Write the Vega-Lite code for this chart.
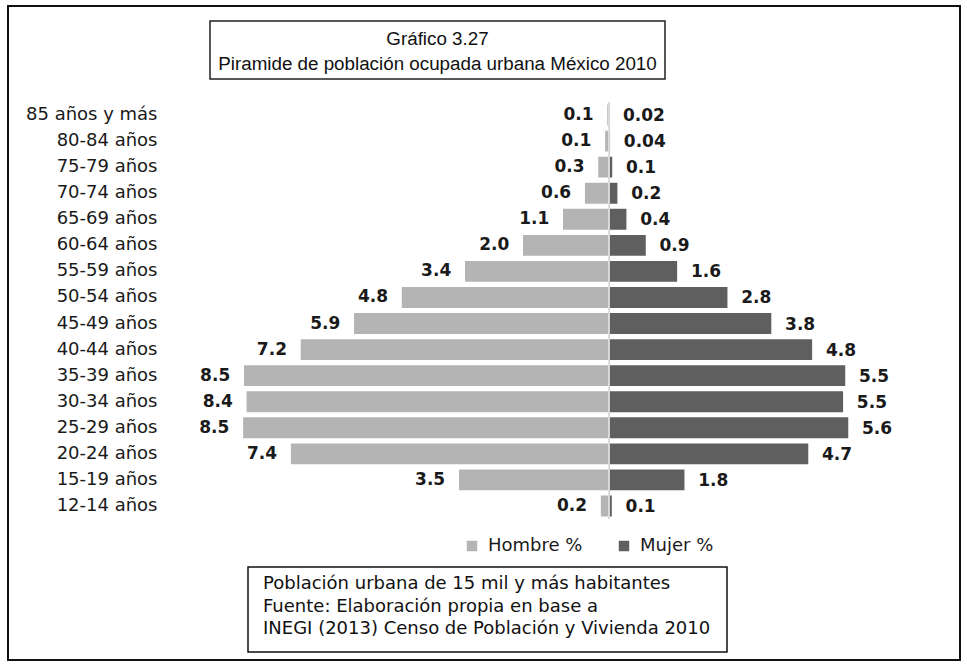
{
  "$schema": "https://vega.github.io/schema/vega-lite/v6.json",
  "padding": {"left": 7, "top": 5, "right": 0, "bottom": 0},
  "background": "white",
  "config": {"view": {"stroke": null}, "font": "DejaVu Sans"},
  "columns": 1,
  "align": {"row": "none", "column": "each"},
  "spacing": -641,
  "resolve": {"scale": {"color": "independent"}, "legend": {"color": "independent"}},
  "concat": [
    {
      "width": 952,
      "height": 654,
      "data": {"values": [{}]},
      "mark": {"type": "text", "text": ""},
      "encoding": {},
      "view": {"stroke": "#111111", "strokeWidth": 2}
    },
    {
      "spacing": 6,
      "resolve": {"scale": {"color": "independent"}, "legend": {"color": "independent"}},
      "vconcat": [
        {
          "spacing": 0,
          "hconcat": [
            {
              "width": 201,
              "height": 69,
              "data": {"values": [{}]},
              "mark": {"type": "text", "text": ""},
              "encoding": {}
            },
            {
              "width": 455,
              "height": 58,
              "data": {"values": [{}]},
              "mark": {"type": "text", "text": ""},
              "encoding": {},
              "view": {"stroke": "#222222", "strokeWidth": 1.5},
              "title": {
                "text": ["Gráfico 3.27", "Piramide de población ocupada urbana México 2010"],
                "anchor": "middle",
                "frame": "group",
                "orient": "top",
                "offset": -53,
                "lineHeight": 25,
                "font": "Liberation Sans",
                "fontSize": 18.8,
                "fontWeight": "normal",
                "color": "#111111"
              }
            }
          ]
        },
        {
          "spacing": 0,
          "resolve": {"scale": {"color": "independent"}, "legend": {"color": "independent"}},
          "hconcat": [
            {
              "width": 17,
              "height": 1,
              "data": {"values": [{}]},
              "mark": {"type": "text", "text": ""},
              "encoding": {}
            },
            {
              "width": 770,
              "height": 417,
              "data": {
                "values": [
                  {"edad": "85 años y más", "sexo": "Hombre %", "pct": 0.06, "etiqueta": "0.1"},
                  {"edad": "80-84 años", "sexo": "Hombre %", "pct": 0.11, "etiqueta": "0.1"},
                  {"edad": "75-79 años", "sexo": "Hombre %", "pct": 0.27, "etiqueta": "0.3"},
                  {"edad": "70-74 años", "sexo": "Hombre %", "pct": 0.58, "etiqueta": "0.6"},
                  {"edad": "65-69 años", "sexo": "Hombre %", "pct": 1.09, "etiqueta": "1.1"},
                  {"edad": "60-64 años", "sexo": "Hombre %", "pct": 2.02, "etiqueta": "2.0"},
                  {"edad": "55-59 años", "sexo": "Hombre %", "pct": 3.37, "etiqueta": "3.4"},
                  {"edad": "50-54 años", "sexo": "Hombre %", "pct": 4.84, "etiqueta": "4.8"},
                  {"edad": "45-49 años", "sexo": "Hombre %", "pct": 5.95, "etiqueta": "5.9"},
                  {"edad": "40-44 años", "sexo": "Hombre %", "pct": 7.19, "etiqueta": "7.2"},
                  {"edad": "35-39 años", "sexo": "Hombre %", "pct": 8.51, "etiqueta": "8.5"},
                  {"edad": "30-34 años", "sexo": "Hombre %", "pct": 8.45, "etiqueta": "8.4"},
                  {"edad": "25-29 años", "sexo": "Hombre %", "pct": 8.53, "etiqueta": "8.5"},
                  {"edad": "20-24 años", "sexo": "Hombre %", "pct": 7.42, "etiqueta": "7.4"},
                  {"edad": "15-19 años", "sexo": "Hombre %", "pct": 3.51, "etiqueta": "3.5"},
                  {"edad": "12-14 años", "sexo": "Hombre %", "pct": 0.21, "etiqueta": "0.2"},
                  {"edad": "85 años y más", "sexo": "Mujer %", "pct": 0.02, "etiqueta": "0.02"},
                  {"edad": "80-84 años", "sexo": "Mujer %", "pct": 0.04, "etiqueta": "0.04"},
                  {"edad": "75-79 años", "sexo": "Mujer %", "pct": 0.09, "etiqueta": "0.1"},
                  {"edad": "70-74 años", "sexo": "Mujer %", "pct": 0.21, "etiqueta": "0.2"},
                  {"edad": "65-69 años", "sexo": "Mujer %", "pct": 0.42, "etiqueta": "0.4"},
                  {"edad": "60-64 años", "sexo": "Mujer %", "pct": 0.87, "etiqueta": "0.9"},
                  {"edad": "55-59 años", "sexo": "Mujer %", "pct": 1.6, "etiqueta": "1.6"},
                  {"edad": "50-54 años", "sexo": "Mujer %", "pct": 2.77, "etiqueta": "2.8"},
                  {"edad": "45-49 años", "sexo": "Mujer %", "pct": 3.79, "etiqueta": "3.8"},
                  {"edad": "40-44 años", "sexo": "Mujer %", "pct": 4.74, "etiqueta": "4.8"},
                  {"edad": "35-39 años", "sexo": "Mujer %", "pct": 5.51, "etiqueta": "5.5"},
                  {"edad": "30-34 años", "sexo": "Mujer %", "pct": 5.46, "etiqueta": "5.5"},
                  {"edad": "25-29 años", "sexo": "Mujer %", "pct": 5.58, "etiqueta": "5.6"},
                  {"edad": "20-24 años", "sexo": "Mujer %", "pct": 4.65, "etiqueta": "4.7"},
                  {"edad": "15-19 años", "sexo": "Mujer %", "pct": 1.77, "etiqueta": "1.8"},
                  {"edad": "12-14 años", "sexo": "Mujer %", "pct": 0.08, "etiqueta": "0.1"}
                ]
              },
              "layer": [
                {
                  "transform": [{"filter": "datum.sexo === 'Hombre %'"}],
                  "mark": {"type": "bar", "stroke": "#ffffff", "strokeWidth": 1.5},
                  "encoding": {
                    "y": {
                      "field": "edad", "type": "nominal", "title": null,
                      "sort": ["85 años y más", "80-84 años", "75-79 años", "70-74 años", "65-69 años", "60-64 años", "55-59 años", "50-54 años", "45-49 años", "40-44 años", "35-39 años", "30-34 años", "25-29 años", "20-24 años", "15-19 años", "12-14 años"],
                      "scale": {"paddingInner": 0.14, "paddingOuter": 0.07},
                      "axis": {"domain": false, "ticks": false, "grid": false, "labelPadding": 8, "labelFont": "DejaVu Sans", "labelFontSize": 18, "labelColor": "#1a1a1a"}
                    },
                    "x": {"field": "pct", "type": "quantitative", "scale": {"domain": [-7.58, 10.33], "reverse": true, "nice": false, "zero": false}, "axis": null},
                    "x2": {"datum": 0},
                    "color": {
                      "field": "sexo", "type": "nominal",
                      "scale": {"domain": ["Hombre %", "Mujer %"], "range": ["#b4b4b4", "#5f5f5f"]},
                      "legend": {"orient": "none", "legendX": 298, "legendY": 435, "direction": "horizontal", "title": null, "symbolType": "square", "symbolSize": 110, "symbolStrokeWidth": 0, "labelFont": "DejaVu Sans", "labelFontSize": 18, "labelColor": "#1a1a1a", "columnPadding": 32, "labelOffset": 7}
                    }
                  }
                },
                {
                  "transform": [{"filter": "datum.sexo === 'Mujer %'"}],
                  "mark": {"type": "bar", "stroke": "#ffffff", "strokeWidth": 1.5},
                  "encoding": {
                    "y": {
                      "field": "edad", "type": "nominal",
                      "sort": ["85 años y más", "80-84 años", "75-79 años", "70-74 años", "65-69 años", "60-64 años", "55-59 años", "50-54 años", "45-49 años", "40-44 años", "35-39 años", "30-34 años", "25-29 años", "20-24 años", "15-19 años", "12-14 años"]
                    },
                    "x": {"field": "pct", "type": "quantitative", "scale": {"domain": [-10.33, 7.58], "nice": false, "zero": false}, "axis": null},
                    "x2": {"datum": 0},
                    "color": {"field": "sexo", "type": "nominal"}
                  }
                },
                {
                  "transform": [{"filter": "datum.sexo === 'Hombre %'"}],
                  "mark": {"type": "text", "align": "right", "baseline": "middle", "dx": -13, "font": "DejaVu Sans", "fontWeight": "bold", "fontSize": 17, "color": "#1a1a1a"},
                  "encoding": {
                    "y": {
                      "field": "edad", "type": "nominal",
                      "sort": ["85 años y más", "80-84 años", "75-79 años", "70-74 años", "65-69 años", "60-64 años", "55-59 años", "50-54 años", "45-49 años", "40-44 años", "35-39 años", "30-34 años", "25-29 años", "20-24 años", "15-19 años", "12-14 años"]
                    },
                    "x": {"field": "pct", "type": "quantitative", "scale": {"domain": [-7.58, 10.33], "reverse": true, "nice": false, "zero": false}, "axis": null},
                    "text": {"field": "etiqueta"}
                  }
                },
                {
                  "transform": [{"filter": "datum.sexo === 'Mujer %'"}],
                  "mark": {"type": "text", "align": "left", "baseline": "middle", "dx": 13, "dy": 1, "font": "DejaVu Sans", "fontWeight": "bold", "fontSize": 17, "color": "#1a1a1a"},
                  "encoding": {
                    "y": {
                      "field": "edad", "type": "nominal",
                      "sort": ["85 años y más", "80-84 años", "75-79 años", "70-74 años", "65-69 años", "60-64 años", "55-59 años", "50-54 años", "45-49 años", "40-44 años", "35-39 años", "30-34 años", "25-29 años", "20-24 años", "15-19 años", "12-14 años"]
                    },
                    "x": {"field": "pct", "type": "quantitative", "scale": {"domain": [-10.33, 7.58], "nice": false, "zero": false}, "axis": null},
                    "text": {"field": "etiqueta"}
                  }
                },
                {
                  "data": {"values": [{}]},
                  "mark": {"type": "rule", "color": "#cfcfcf", "strokeWidth": 1.5},
                  "encoding": {
                    "x": {"datum": 0, "scale": {"domain": [-10.33, 7.58], "nice": false, "zero": false}, "axis": null}
                  }
                }
              ],
              "resolve": {"scale": {"x": "independent"}, "axis": {"x": "independent"}}
            }
          ]
        },
        {
          "spacing": 0,
          "hconcat": [
            {
              "width": 239,
              "height": 1,
              "data": {"values": [{}]},
              "mark": {"type": "text", "text": ""},
              "encoding": {}
            },
            {
              "width": 479,
              "height": 85,
              "data": {"values": [{}]},
              "mark": {"type": "text", "text": ""},
              "encoding": {},
              "view": {"stroke": "#111111", "strokeWidth": 1.5},
              "title": {
                "text": ["Población urbana de 15 mil y más habitantes", "Fuente: Elaboración propia en base a", "INEGI (2013) Censo de Población y Vivienda 2010"],
                "anchor": "start",
                "frame": "group",
                "orient": "top",
                "offset": -71,
                "dx": 15,
                "lineHeight": 22.5,
                "font": "DejaVu Sans",
                "fontSize": 18,
                "fontWeight": "normal",
                "color": "#111111"
              }
            }
          ]
        }
      ]
    }
  ]
}
